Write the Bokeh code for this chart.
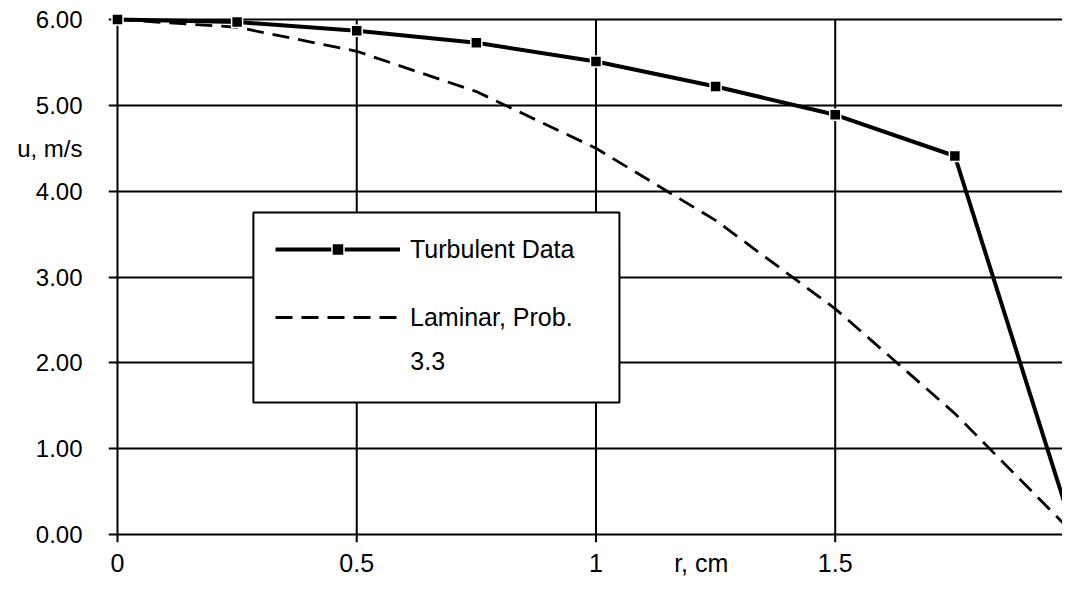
from bokeh.plotting import figure
from bokeh.models import (Range1d, FixedTicker, NumeralTickFormatter, Legend, LegendItem,
                          Label, BoxAnnotation)
from bokeh.embed import file_html
from bokeh.resources import INLINE

# ---- data ----
r_cm = [0, 0.25, 0.5, 0.75, 1.0, 1.25, 1.5, 1.75, 2.0]
u_turbulent = [6.00, 5.97, 5.87, 5.73, 5.51, 5.22, 4.89, 4.41, 0.00]
u_laminar = [6.00, 5.91, 5.63, 5.16, 4.50, 3.66, 2.63, 1.41, 0.00]
x_ticks = [0, 0.5, 1, 1.5, 2]
y_ticks = [0, 1, 2, 3, 4, 5, 6]
series_names = ["Turbulent Data", "Laminar, Prob."]
series_note = "3.3"
x_title = "r, cm"
y_title = "u, m/s"

# ---- layout / style ----
FONT = "Liberation Sans"
x_title_at = 1.22      # titles sit on the tick-label rows, as in the original
y_title_at = 4.5

p = figure(width=1062, height=579, output_backend="svg", toolbar_location=None,
           x_range=Range1d(-0.0188, 1.975), y_range=Range1d(-0.093, 6.07),
           min_border_left=108, min_border_right=0, min_border_top=13, min_border_bottom=37)
p.outline_line_color = None
p.background_fill_color = "white"
p.border_fill_color = "white"

# axes
p.xaxis.ticker = FixedTicker(ticks=x_ticks + [x_title_at])
p.yaxis.ticker = FixedTicker(ticks=y_ticks + [y_title_at])
p.xaxis.formatter = NumeralTickFormatter(format="0.[0]")
p.yaxis.formatter = NumeralTickFormatter(format="0.00")
p.xaxis.major_label_overrides = {x_title_at: x_title}
p.yaxis.major_label_overrides = {y_title_at: y_title}
p.axis.axis_line_color = None
p.axis.major_tick_line_color = None
p.axis.minor_tick_line_color = None
p.axis.major_tick_in = 0
p.axis.major_tick_out = 0
p.axis.minor_tick_in = 0
p.axis.minor_tick_out = 0
p.axis.major_label_text_font = FONT
p.axis.major_label_text_color = "black"
p.xaxis.major_label_text_font_size = "25px"
p.yaxis.major_label_text_font_size = "24px"
p.xaxis.major_label_standoff = 6
p.yaxis.major_label_standoff = 26

# grid: horizontal lines from the y ticks, vertical lines from the x ticks
p.xgrid.visible = False
p.ygrid.ticker = FixedTicker(ticks=y_ticks)
p.ygrid.grid_line_color = "black"
p.ygrid.grid_line_width = 2
p.ygrid.grid_line_alpha = 1
n = len(x_ticks)
p.segment(x0=x_ticks, y0=[p.y_range.start] * n, x1=x_ticks, y1=[y_ticks[-1]] * n,
          line_color="black", line_width=2)

# series
lam = p.line(r_cm, u_laminar, line_color="black", line_width=2.8, line_dash="17 9")
turb_line = p.line(r_cm, u_turbulent, line_color="black", line_width=4)
turb_pts = p.scatter(r_cm, u_turbulent, marker="square", size=11,
                     fill_color="black", line_color="white", line_width=1.5)

# legend frame
p.add_layout(BoxAnnotation(left=0.284, right=1.049, top=3.752, bottom=1.538,
                           fill_color="white", fill_alpha=1,
                           line_color="black", line_width=2, line_alpha=1))

legend = Legend(
    items=[LegendItem(label=series_names[0], renderers=[turb_line, turb_pts]),
           LegendItem(label=series_names[1], renderers=[lam])],
    location=(157, 200), orientation="vertical",
    glyph_width=125, glyph_height=30, label_height=30,
    label_standoff=10, padding=10, spacing=38, margin=0,
    border_line_alpha=0, background_fill_alpha=0,
    label_text_font=FONT, label_text_font_size="25px", label_text_color="black")
p.add_layout(legend, "center")

p.add_layout(Label(x=0.612, y=2.016, text=series_note, text_align="left",
                   text_baseline="middle", text_font=FONT, text_font_size="25px",
                   text_color="black"))

open("out.html", "w").write(file_html(p, INLINE))
